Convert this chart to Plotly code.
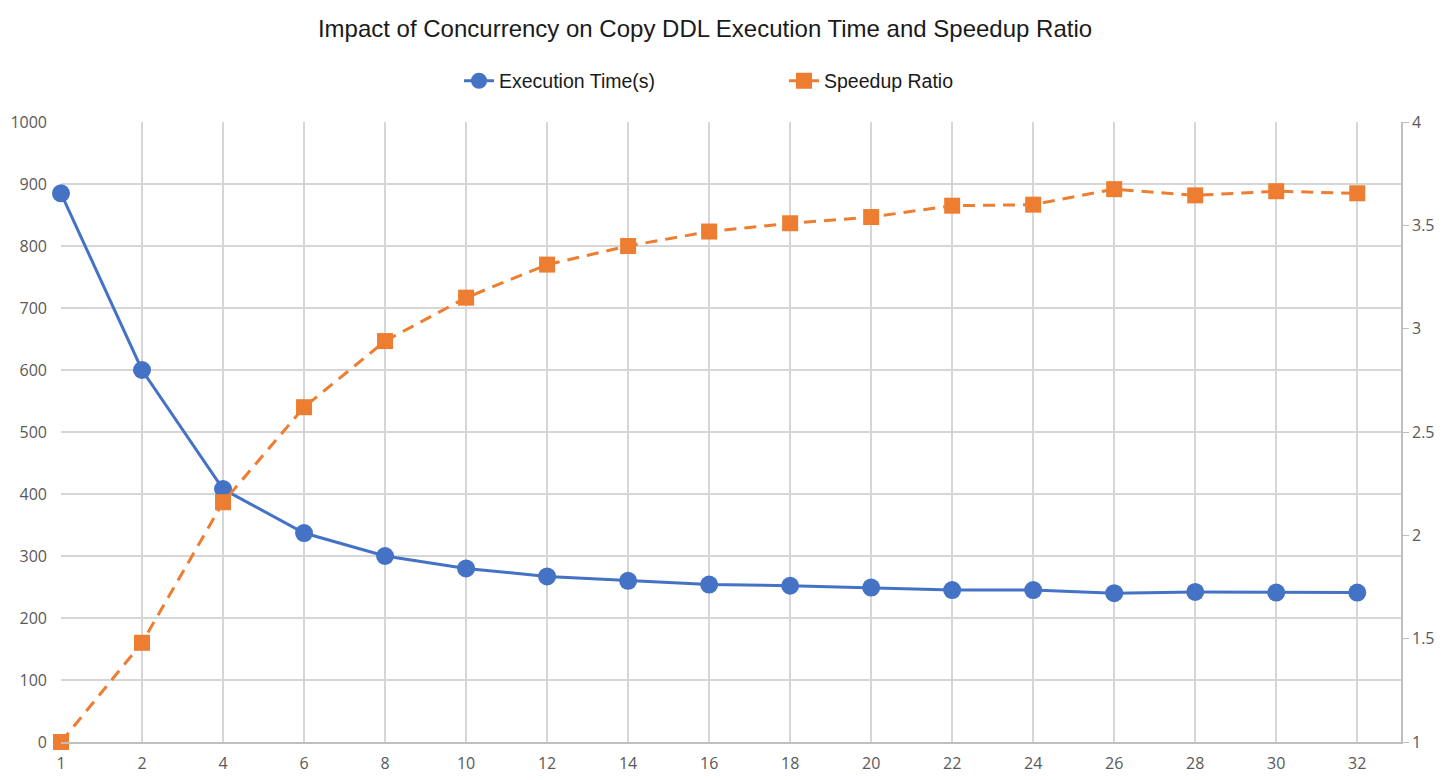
import plotly.graph_objects as go

# Data
threads = ["1", "2", "4", "6", "8", "10", "12", "14", "16",
           "18", "20", "22", "24", "26", "28", "30", "32"]
exec_time = [885, 600, 408, 337, 300, 280, 267, 260, 254,
             252, 249, 245, 245, 240, 242, 241, 241]
speedup = [1.0, 1.48, 2.16, 2.62, 2.94, 3.15, 3.31, 3.40, 3.47,
           3.51, 3.54, 3.595, 3.60, 3.675, 3.645, 3.665, 3.655]

BLUE = "#4472C4"
ORANGE = "#ED7D31"
GRID = "#D6D6D6"
TICK = "#595959"

# the page body has an 8px margin, so the figure is a bit smaller than the window
W, H = 1436, 772

fig = go.Figure()
fig.add_trace(go.Scatter(
    x=threads, y=speedup, name="Speedup Ratio", yaxis="y2",
    mode="lines+markers", cliponaxis=False, legendrank=2,
    line=dict(color=ORANGE, width=3, dash="12px,8px"),
    marker=dict(symbol="square", size=16, color=ORANGE),
))
fig.add_trace(go.Scatter(
    x=threads, y=exec_time, name="Execution Time(s)",
    mode="lines+markers", cliponaxis=False, legendrank=1,
    line=dict(color=BLUE, width=3),
    marker=dict(symbol="circle", size=18, color=BLUE),
))

fig.update_layout(
    width=W, height=H,
    margin=dict(l=53, r=43, t=114, b=38, autoexpand=False),
    paper_bgcolor="white", plot_bgcolor="white",
    title=dict(
        text="Impact of Concurrency on Copy DDL Execution Time and Speedup Ratio",
        x=697 / W, xref="container", xanchor="center",
        y=1 - 21 / H, yref="container", yanchor="middle",
        font=dict(family="Liberation Sans, Arial, sans-serif", size=24, color="#1a1a1a"),
    ),
    legend=dict(
        orientation="h", x=(459 - 61) / 1340, xanchor="left", y=1.066, yanchor="middle",
        font=dict(family="Liberation Sans, Arial, sans-serif", size=19.5, color="#1a1a1a"),
        entrywidth=280, bgcolor="rgba(0,0,0,0)",
    ),
    xaxis=dict(
        type="category", range=[0, 16.54], automargin=False,
        showgrid=True, gridcolor=GRID, gridwidth=1.6,
        showline=True, linecolor="#BFBFBF", linewidth=1.6,
        ticks="", ticklabelstandoff=6,
        tickfont=dict(family="Open Sans, sans-serif", size=16, color=TICK),
    ),
    yaxis=dict(
        range=[0, 1000], dtick=100, automargin=False,
        showgrid=True, gridcolor=GRID, gridwidth=1.6, zeroline=False,
        showline=False, ticks="", ticklabelstandoff=13,
        tickfont=dict(family="Open Sans, sans-serif", size=16, color=TICK),
    ),
    yaxis2=dict(
        overlaying="y", side="right", range=[1, 4], dtick=0.5, automargin=False,
        showgrid=False, zeroline=False,
        showline=True, linecolor="#BFBFBF", linewidth=1.6,
        ticks="outside", ticklen=6, tickcolor="#BFBFBF", tickwidth=1.4,
        tickfont=dict(family="Open Sans, sans-serif", size=16, color=TICK),
    ),
)

fig.write_html("out.html")
